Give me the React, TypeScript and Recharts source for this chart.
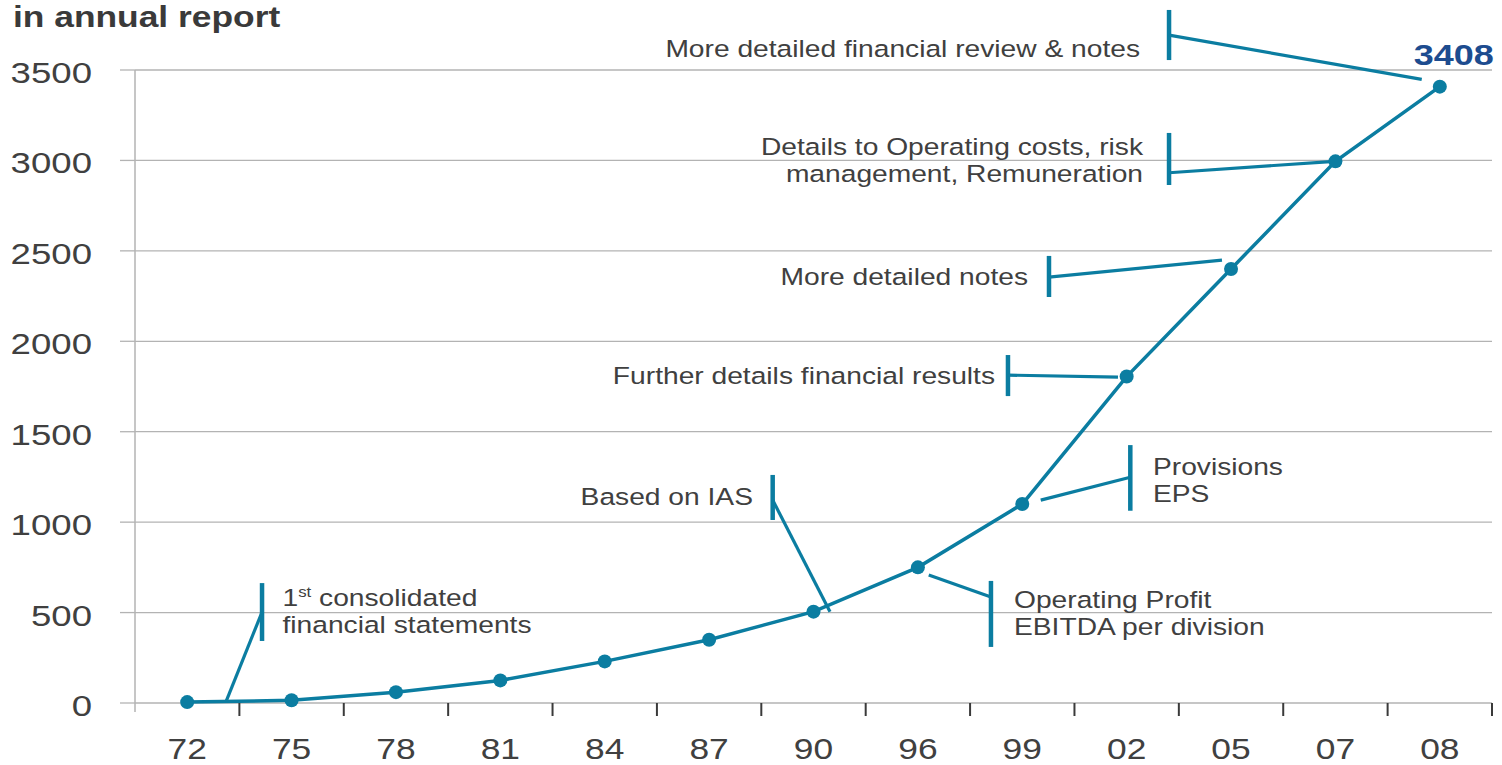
import React from 'react';
import { LineChart, Line, XAxis, YAxis, CartesianGrid, ReferenceLine, ReferenceDot } from 'recharts';

// ---- data ----
const categories = ['72', '75', '78', '81', '84', '87', '90', '96', '99', '02', '05', '07', '08'];
const pages = [5, 15, 60, 125, 230, 350, 505, 750, 1100, 1805, 2400, 2995, 3408];
const yTicks = [0, 500, 1000, 1500, 2000, 2500, 3000, 3500];
const titleText = 'in annual report';

// annotations, expressed in data coordinates (x = category index, y = pages)
const annotations = [
  { lines: ['1st consolidated', 'financial statements'], tx: 0.913, ty: 536, anchor: 'start', bx: 0.717, by1: 343, by2: 663, l: [0.372, 8, 0.717, 503] },
  { lines: ['Based on IAS'], tx: 5.42, ty: 1095, anchor: 'end', bx: 5.609, by1: 1012, by2: 1261, l: [5.609, 1122, 6.158, 505] },
  { lines: ['Operating Profit', 'EBITDA per division'], tx: 7.921, ty: 525, anchor: 'start', bx: 7.7, by1: 310, by2: 675, l: [7.104, 708, 7.7, 586] },
  { lines: ['Provisions', 'EPS'], tx: 9.252, ty: 1261, anchor: 'start', bx: 9.035, by1: 1063, by2: 1426, l: [8.177, 1122, 9.035, 1248] },
  { lines: ['Further details financial results'], tx: 7.739, ty: 1764, anchor: 'end', bx: 7.863, by1: 1697, by2: 1924, l: [7.863, 1813, 8.917, 1802] },
  { lines: ['More detailed notes'], tx: 8.055, ty: 2311, anchor: 'end', bx: 8.256, by1: 2245, by2: 2472, l: [8.256, 2355, 9.913, 2449] },
  { lines: ['Details to Operating costs, risk', 'management, Remuneration'], tx: 9.157, ty: 3030, anchor: 'end', bx: 9.406, by1: 2864, by2: 3152, l: [9.406, 2932, 10.99, 2995] },
  { lines: ['More detailed financial review & notes'], tx: 9.128, ty: 3572, anchor: 'end', bx: 9.406, by1: 3555, by2: 3832, l: [9.406, 3693, 11.827, 3448] },
];

// ---- styles ----
const FONT = '"Liberation Sans", Arial, Helvetica, sans-serif';
const SX = 1.2;
const TEAL = '#0b7da1';
const GRID = '#b3b3b3';
const TEXT = '#404040';

const data = categories.map((c, i) => ({ idx: i, label: c, pages: pages[i] }));
const xTicks = categories.flatMap((_, i) => [i, i + 0.5]);
const lastIdx = categories.length - 1;

const XTick = (props: any) => {
  const { x, y, payload } = props;
  const v = payload.value;
  if (Number.isInteger(v)) {
    return (
      <text transform={`translate(${x} ${y + 56}) scale(1.22 1)`} textAnchor="middle" fontSize={29} fill={TEXT} fontFamily={FONT}>
        {categories[v]}
      </text>
    );
  }
  return <line x1={x} x2={x} y1={y} y2={y + 13} stroke="#3a3a3a" strokeWidth={2} />;
};

const YTick = (props: any) => {
  const { x, y, payload } = props;
  return (
    <text transform={`translate(${x} ${y + 13}) scale(1.22 1)`} textAnchor="end" fontSize={30} fill={TEXT} fontFamily={FONT}>
      {payload.value}
    </text>
  );
};

const renderLine = (line: string, i: number) => {
  const m = line.match(/^(\d+)(st|nd|rd|th)(\s.*)$/);
  if (m) {
    return (
      <tspan key={i} x={0} dy={i === 0 ? 0 : 27}>
        {m[1]}
        <tspan fontSize={14} dy={-9}>{m[2]}</tspan>
        <tspan dy={9}>{m[3]}</tspan>
      </tspan>
    );
  }
  return (
    <tspan key={i} x={0} dy={i === 0 ? 0 : 27}>
      {line}
    </tspan>
  );
};

const makeTextShape = (lines: string[], anchor: string) => (p: any) => (
  <text
    transform={`translate(${p.cx} ${p.cy}) scale(${SX} 1)`}
    textAnchor={anchor}
    fontSize={23.5}
    fill={TEXT}
    fontFamily={FONT}
  >
    {lines.map(renderLine)}
  </text>
);

const renderDot = (p: any) => {
  const { cx, cy, index, payload } = p;
  return (
    <g key={`dot-${index}`}>
      <circle cx={cx} cy={cy} r={7} fill={TEAL} />
      {index === lastIdx && (
        <text
          transform={`translate(${cx + 54} ${cy - 22}) scale(1.2 1)`}
          textAnchor="end"
          fontSize={30}
          fontWeight="bold"
          fill="#1d4c8f"
          fontFamily={FONT}
        >
          {payload.pages}
        </text>
      )}
    </g>
  );
};

export default function App() {
  return (
    <div style={{ position: 'absolute', left: 0, top: 0, width: 1502, height: 765, background: '#fff' }}>
      <LineChart width={1502} height={765} data={data} margin={{ top: 70, right: 10, bottom: 0, left: 0 }}>
        <CartesianGrid vertical={false} stroke={GRID} strokeWidth={1.3} />
        <XAxis
          dataKey="idx"
          type="number"
          domain={[-0.5, 12.5]}
          ticks={xTicks}
          interval={0}
          tick={<XTick />}
          tickLine={false}
          axisLine={false}
          tickSize={0}
          tickMargin={0}
          height={62}
        />
        <YAxis
          type="number"
          domain={[0, 3500]}
          ticks={yTicks}
          interval={0}
          width={135}
          tickSize={15}
          tickMargin={28}
          tickLine={{ stroke: GRID, strokeWidth: 1.3 }}
          axisLine={false}
          tick={<YTick />}
        />
        <ReferenceLine segment={[{ x: -0.5, y: 3500 }, { x: -0.5, y: -50 }]} stroke={GRID} strokeWidth={1.5} ifOverflow="visible" />
        {annotations.map((a, i) => (
          <ReferenceLine
            key={`bar-${i}`}
            segment={[{ x: a.bx, y: a.by1 }, { x: a.bx, y: a.by2 }]}
            stroke={TEAL}
            strokeWidth={4.5}
            ifOverflow="visible"
          />
        ))}
        {annotations.map((a, i) => (
          <ReferenceLine
            key={`lead-${i}`}
            segment={[{ x: a.l[0], y: a.l[1] }, { x: a.l[2], y: a.l[3] }]}
            stroke={TEAL}
            strokeWidth={3.2}
            ifOverflow="visible"
          />
        ))}
        {annotations.map((a, i) => (
          <ReferenceDot
            key={`txt-${i}`}
            x={a.tx}
            y={a.ty}
            r={0}
            ifOverflow="visible"
            shape={makeTextShape(a.lines, a.anchor)}
          />
        ))}
        <Line
          type="linear"
          dataKey="pages"
          stroke={TEAL}
          strokeWidth={3.5}
          dot={renderDot}
          activeDot={false}
          isAnimationActive={false}
        />
      </LineChart>
      <svg width={1502} height={40} style={{ position: 'absolute', left: 0, top: 0, pointerEvents: 'none' }}>
        <text transform="translate(13 27) scale(1.22 1)" fontSize={29} fontWeight="bold" fill="#3a3a3a" fontFamily={FONT}>
          {titleText}
        </text>
      </svg>
    </div>
  );
}
